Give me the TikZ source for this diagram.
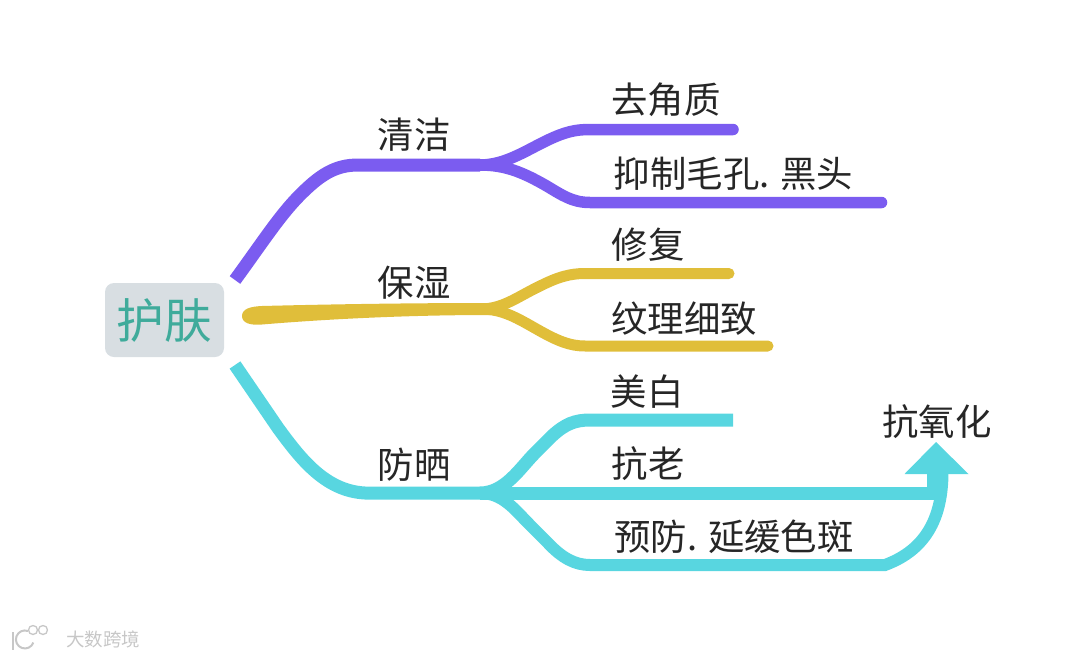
\documentclass[tikz,border=0pt]{standalone}
\usepackage{fontspec}
\newfontfamily\cjk{Noto Sans CJK SC}
\definecolor{pur}{HTML}{7B5CF0}
\definecolor{gol}{HTML}{E0BE3A}
\definecolor{cya}{HTML}{58D6E0}
\definecolor{tea}{HTML}{3FAB9B}
\definecolor{boxc}{HTML}{D8DEE2}
\definecolor{txt}{HTML}{262626}
\tikzset{
  lbl/.style={font=\cjk\fontsize{36.4}{42}\selectfont, text=txt, inner sep=0pt},
  purl/.style={draw=pur, line width=11.5pt, line cap=round, line join=round},
  goll/.style={draw=gol, line width=11pt, line cap=round, line join=round},
  cyal/.style={draw=cya, line width=13pt, line cap=butt, line join=miter},
  rootbox/.style={fill=boxc, rounded corners=9pt, minimum width=119pt, minimum height=74pt, inner sep=0pt,
     font=\cjk\fontsize{47.6}{52}\selectfont, text=tea},
  wmark/.style={font=\cjk\fontsize{18.5}{22}\selectfont, text=black!22, inner sep=0pt}
}
\begin{document}
\begin{tikzpicture}[x=1pt,y=-1pt]
\useasboundingbox (0,0) rectangle (1080,659);
\node[rootbox] (root) at (164.5,320) {护肤};
% labels
\node[lbl] (a) at (414,135) {清洁};
\node[lbl] (a1) at (666,100) {去角质};
\node[lbl] (a2) at (733.5,174) {抑制毛孔. 黑头};
\node[lbl] (b) at (414,283) {保湿};
\node[lbl] (b1) at (648,245) {修复};
\node[lbl] (b2) at (684,319) {纹理细致};
\node[lbl] (c) at (414,465) {防晒};
\node[lbl] (c1) at (647,392) {美白};
\node[lbl] (c2) at (648,464) {抗老};
\node[lbl] (c3) at (734,537) {预防. 延缓色斑};
\node[lbl] (d) at (937,422) {抗氧化};
% way points
\coordinate (ps) at (235,280);
\coordinate (pj) at (480,165);
\coordinate (pe1) at (733,129.5);
\coordinate (pe2) at (881.5,202.5);
\coordinate (gj) at (480,309);
\coordinate (ge1) at (729,273.5);
\coordinate (ge2) at (768,346);
\coordinate (cs) at (235,365);
\coordinate (cj) at (480,493);
\coordinate (ce1) at (733,420);
\coordinate (ctip) at (936,442);
% purple
\draw[pur, line width=13pt] (ps) .. controls (262,243) and (280,215) .. (300,195) .. controls (320,175) and (335,165) .. (358,165) -- (pj);
\draw[purl] (pj) .. controls (505,165) and (525,151) .. (548,140) .. controls (565,132) and (575,129.5) .. (590,129.5) -- (pe1);
\draw[purl] (pj) .. controls (505,165) and (522,172) .. (545,185) .. controls (562,195) and (572,202.5) .. (590,202.5) -- (pe2);
% gold: tapered root
\fill[gol] (242,316) .. controls (242,309) and (250,306.5) .. (262,306) .. controls (340,304) and (420,303) .. (490,303)
   -- (490,315) .. controls (420,315) and (340,318) .. (262,324.5) .. controls (250,325.5) and (242,323) .. (242,316) -- cycle;
\draw[goll] (gj) .. controls (503,309) and (517,297) .. (540,286) .. controls (558,277) and (570,273.5) .. (585,273.5) -- (ge1);
\draw[goll] (gj) .. controls (503,309) and (517,318) .. (540,331) .. controls (558,341) and (570,346) .. (585,346) -- (ge2);
% cyan
\draw[cyal] (cs) -- (278,428) .. controls (300,458) and (325,491) .. (365,493) -- (cj);
\draw[cyal] (cj) .. controls (505,493) and (520,468) .. (535,453) -- (552,436) .. controls (565,424) and (575,420) .. (590,420) -- (ce1);
\draw[cyal] (cj) -- (933.5,493) -- (933.5,472);
\draw[cyal, line width=12pt] (cj) .. controls (503,493) and (515,510) .. (530,525) -- (548,543) .. controls (562,558) and (575,565) .. (590,565) -- (885,565)
   .. controls (920,552) and (942.5,525) .. (942.5,472);
\fill[cya] (ctip) -- (968.5,474) -- (904.5,474) -- cycle;
% watermark
\node[wmark] (wm) at (103,639) {大数跨境};
\draw[black!22, line width=2pt] (13,632) -- (13,650);
\draw[black!22, line width=2pt] (28,631) arc (-70:-340:9);
\draw[black!22, line width=1.3pt] (33,630) circle (4.5) (43,630) circle (4.5);
\end{tikzpicture}
\end{document}
